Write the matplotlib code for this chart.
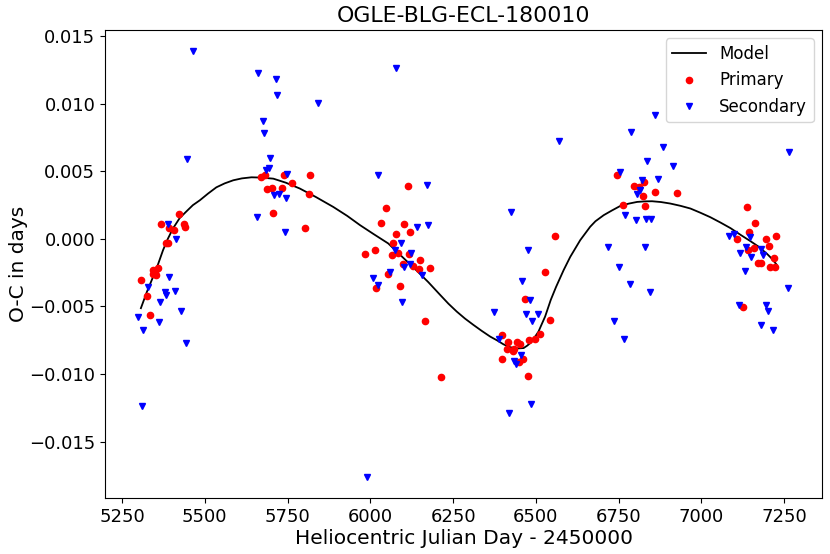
import numpy as np
import matplotlib.pyplot as plt

# O-C timing data for OGLE-BLG-ECL-180010
prim_t = [5422, 5369, 5392, 5406, 5437, 5440, 5388, 5384, 5358, 5344, 5353, 5343, 5349, 5307, 5325, 5335,
          5669, 5683, 5739, 5819, 5764, 5687, 5703, 5734, 5815, 5706, 5802,
          6113, 6048, 6031, 6102, 6119, 6079, 6069, 6014, 5983, 6065, 6085, 6116, 6150, 6100, 6130, 6147,
          6180, 6054, 6018, 6089, 6166, 6215,
          6529, 6468, 6543, 6512, 6397, 6478, 6496, 6417, 6444, 6451, 6414, 6434, 6431, 6462, 6448, 6399,
          6475, 6559,
          6746, 6795, 6813, 6828, 6824, 6861, 6925, 6762, 6830,
          7138, 7161, 7144, 7107, 7196, 7226, 7203, 7141, 7158, 7220, 7172, 7179, 7206, 7223, 7126]
prim_oc = [0.00186, 0.00112, 0.00077, 0.00062, 0.00108, 0.00089, -0.0003, -0.00034, -0.00216, -0.00231,
           -0.00271, -0.0026, -0.00249, -0.00305, -0.0042, -0.00563,
           0.00457, 0.00473, 0.00471, 0.00473, 0.00413, 0.00369, 0.00376, 0.00379, 0.00335, 0.0019, 0.00079,
           0.00389, 0.00226, 0.00118, 0.00112, 0.00047, 0.00035, -0.0003, -0.00083, -0.00115, -0.00122,
           -0.00108, -0.00113, -0.00157, -0.00187, -0.00199, -0.00226, -0.00216, -0.0026, -0.00366,
           -0.00347, -0.00605, -0.0102,
           -0.00248, -0.00443, -0.00597, -0.00705, -0.00712, -0.00749, -0.00743, -0.00764, -0.00762,
           -0.00778, -0.00816, -0.00812, -0.00832, -0.00887, -0.00913, -0.00891, -0.01016, 0.00022,
           0.0047, 0.0039, 0.00383, 0.0042, 0.0032, 0.00343, 0.00337, 0.00252, 0.00243,
           0.00234, 0.00118, 0.00053, 0.00001, 0.00001, 0.00022, -0.00054, -0.00086, -0.00071, -0.00139,
           -0.00177, -0.00181, -0.00206, -0.00206, -0.00507]

sec_t = [5390, 5413, 5393, 5329, 5380, 5382, 5409, 5365, 5427, 5297, 5362, 5314, 5443, 5310, 5447, 5463,
         5662, 5714, 5717, 5843, 5676, 5679, 5697, 5693, 5685, 5747, 5708, 5724, 5744, 5659, 5741,
         6078, 6024, 6171, 6140, 6174, 6093, 6076, 6123, 6120, 6103, 6058, 6156, 6008, 6022, 6095, 5991,
         6426, 6570, 6475, 6458, 6482, 6373, 6471, 6505, 6488, 6390, 6455, 6435, 6440, 6486, 6420,
         6861, 6788, 6884, 7266, 6836, 6915, 6755, 6822, 6868, 6815, 6806, 6769, 6802, 6834, 6847,
         6718, 6831, 6752, 6783, 6845, 6735, 6766,
         7084, 7098, 7148, 7135, 7179, 7185, 7117, 7151, 7131, 7263, 7114, 7196, 7200, 7181, 7216]
sec_oc = [0.00112, -0.00004, -0.00285, -0.00358, -0.00395, -0.00415, -0.00386, -0.00468, -0.00533,
          -0.00577, -0.00617, -0.00676, -0.00769, -0.01236, 0.00588, 0.01387,
          0.01224, 0.0118, 0.01065, 0.01008, 0.00873, 0.00782, 0.00597, 0.00527, 0.00507, 0.00476,
          0.00325, 0.00335, 0.00302, 0.00162, 0.00047,
          0.01264, 0.0047, 0.004, 0.00084, 0.00101, -0.00034, -0.00083, -0.00103, -0.00189, -0.00206,
          -0.00247, -0.0027, -0.00292, -0.00345, -0.00465, -0.0176,
          0.00197, 0.00726, -0.00081, -0.0031, -0.00452, -0.00544, -0.00559, -0.00555, -0.00608,
          -0.00738, -0.00861, -0.009, -0.00924, -0.01219, -0.01291,
          0.00915, 0.00789, 0.00676, 0.00642, 0.00575, 0.00538, 0.00495, 0.00438, 0.00443, 0.00364,
          0.00328, 0.00177, 0.00138, 0.0015, 0.0015, -0.00061, -0.00063, -0.00212, -0.00334, -0.00395,
          -0.00607, -0.0074,
          0.00018, 0.00032, 0.00013, -0.00063, -0.00078, -0.00118, -0.00107, -0.00135, -0.0024,
          -0.00364, -0.00493, -0.00493, -0.00533, -0.00635, -0.00672]

# model curve
model_t = [5307, 5325, 5344, 5359, 5374, 5388, 5404, 5424, 5445, 5464, 5485, 5510, 5535, 5560, 5586,
           5612, 5641, 5670, 5707, 5745, 5787, 5835, 5888, 5930, 5969, 6010, 6054, 6095, 6135, 6175,
           6211, 6236, 6261, 6286, 6311, 6336, 6362, 6382, 6402, 6420, 6438, 6450, 6463, 6474, 6483,
           6496, 6508, 6518, 6528, 6545, 6561, 6584, 6604, 6634, 6664, 6680, 6705, 6730, 6755, 6780,
           6806, 6830, 6851, 6878, 6906, 6937, 6967, 6997, 7027, 7058, 7088, 7118, 7148, 7174, 7199,
           7214, 7227]
model_oc = [-0.00513, -0.00393, -0.0028, -0.00187, -0.00083, -0.00002, 0.00077, 0.00153, 0.00204,
            0.00249, 0.00285, 0.00335, 0.00381, 0.0041, 0.00433, 0.00447, 0.00455, 0.00453, 0.00445,
            0.00415, 0.00372, 0.0031, 0.00236, 0.0017, 0.00101, 0.00035, -0.00034, -0.0013, -0.00223,
            -0.0032, -0.00415, -0.0048, -0.00538, -0.0059, -0.00636, -0.0068, -0.00723, -0.0075,
            -0.0078, -0.008, -0.0081, -0.0081, -0.00808, -0.0079, -0.00771, -0.0073, -0.00686, -0.0063,
            -0.00575, -0.00452, -0.00356, -0.00231, -0.00133, -0.0001, 0.00089, 0.0013, 0.00175, 0.0021,
            0.00243, 0.0026, 0.00273, 0.00277, 0.00278, 0.00272, 0.00261, 0.00244, 0.00224, 0.00193,
            0.0016, 0.0012, 0.00079, 0.0003, -0.00017, -0.0006, -0.00113, -0.0015, -0.0019]

fig, ax = plt.subplots(figsize=(8.3, 5.54), dpi=100)
fig.subplots_adjust(left=0.1265, right=0.9904, bottom=0.101, top=0.9458)

ax.plot(model_t, model_oc, color="black", lw=1.3, label="Model")
ax.plot(prim_t, prim_oc, "o", color="red", ms=4.5, ls="none", label="Primary")
ax.plot(sec_t, sec_oc, "v", color="blue", ms=5, ls="none", label="Secondary")

ax.set_title("OGLE-BLG-ECL-180010", fontsize=15.8)
ax.set_xlabel("Heliocentric Julian Day - 2450000", fontsize=14.5, labelpad=2)
ax.set_ylabel("O-C in days", fontsize=14.5, labelpad=1)
ax.tick_params(labelsize=13)
ax.set_xticks(np.arange(5250, 7251, 250))
ax.legend(loc="upper right", fontsize=12)

plt.savefig("out.png")
